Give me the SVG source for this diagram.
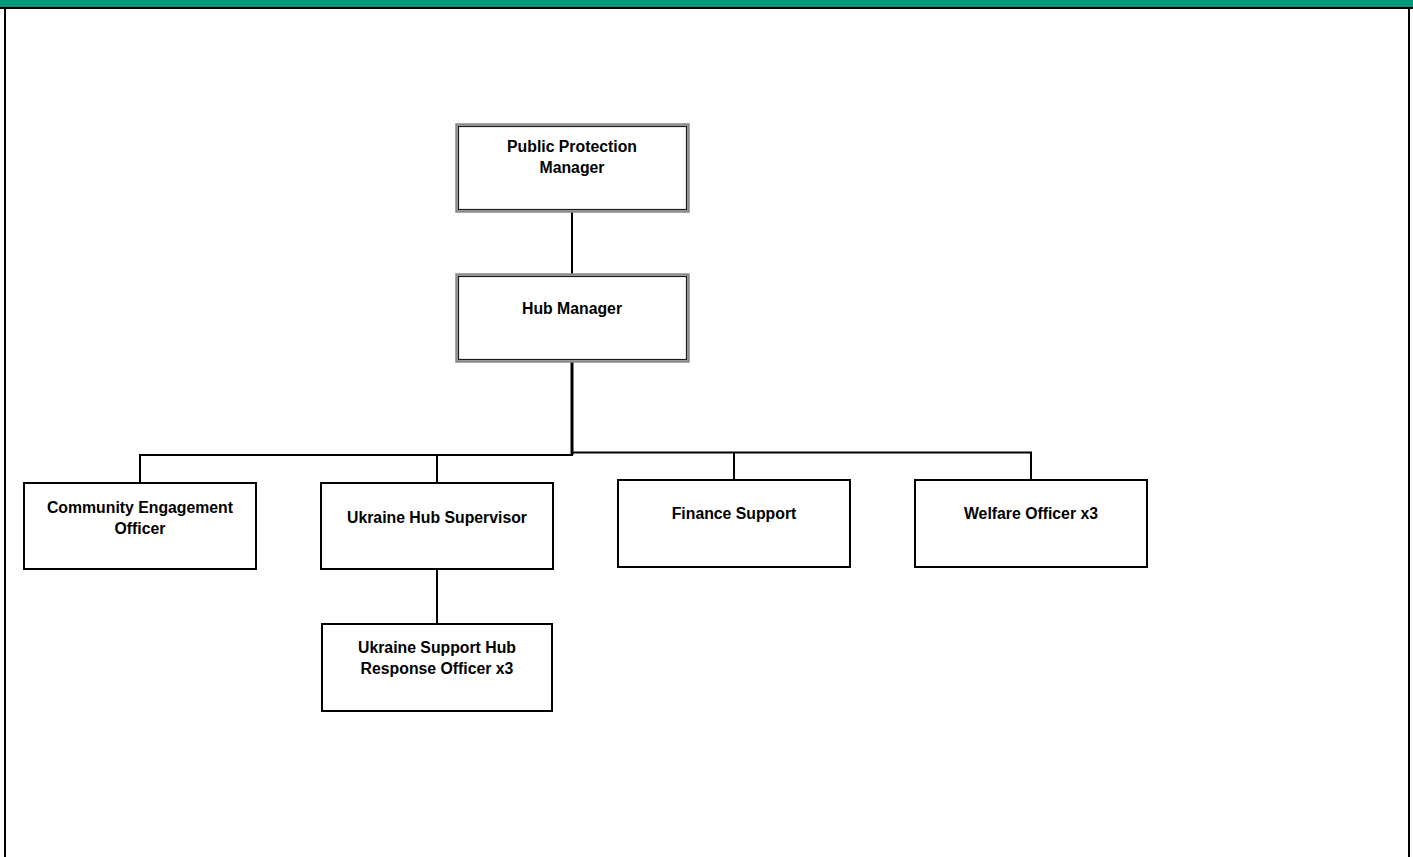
<svg xmlns="http://www.w3.org/2000/svg" width="1413" height="857" viewBox="0 0 1413 857">
<style>
.box{fill:#fff;stroke:#000;stroke-width:2}
.dbo{fill:#fff;stroke:#8a8a8a;stroke-width:2.5}
.dbi{fill:none;stroke:#1a1a1a;stroke-width:1.2}
.lbl{font-family:"Liberation Sans",Arial,sans-serif;font-weight:bold;font-size:15.8px;fill:#000;text-anchor:middle}
.ln{stroke:#000;stroke-width:2;fill:none}
.lnt{stroke:#000;stroke-width:3;fill:none}
</style>
<rect x="0" y="0" width="1413" height="857" fill="#fff"/>
<g id="frame">
<rect x="0" y="0" width="1413" height="7.5" fill="#009A7B"/>
<line x1="0" y1="8" x2="1413" y2="8" stroke="#000" stroke-width="2"/>
<line x1="5" y1="8" x2="5" y2="857" stroke="#000" stroke-width="2"/>
<line x1="1409" y1="8" x2="1409" y2="857" stroke="#000" stroke-width="2"/>
</g>
<g id="connectors">
<line class="ln" x1="572" y1="212" x2="572" y2="274"/>
<line class="lnt" x1="572" y1="362" x2="572" y2="455"/>
<polyline class="ln" points="140,483 140,455 573,455"/>
<polyline class="ln" points="571,452.5 1031,452.5 1031,480"/>
<line class="ln" x1="437" y1="455" x2="437" y2="483"/>
<line class="ln" x1="734" y1="452" x2="734" y2="480"/>
<line class="ln" x1="437" y1="569" x2="437" y2="624"/>
</g>
<g id="ppm">
<rect class="dbo" x="456.5" y="124.5" width="232" height="87"/>
<rect class="dbi" x="458.5" y="126.5" width="228" height="83"/>
<text class="lbl" x="572" y="152">Public Protection</text>
<text class="lbl" x="572" y="173">Manager</text>
</g>
<g id="hub">
<rect class="dbo" x="456.5" y="274.5" width="232" height="87"/>
<rect class="dbi" x="458.5" y="276.5" width="228" height="83"/>
<text class="lbl" x="572" y="314">Hub Manager</text>
</g>
<g id="community">
<rect class="box" x="24" y="483" width="232" height="86"/>
<text class="lbl" x="140" y="513">Community Engagement</text>
<text class="lbl" x="140" y="534">Officer</text>
</g>
<g id="supervisor">
<rect class="box" x="321" y="483" width="232" height="86"/>
<text class="lbl" x="437" y="523">Ukraine Hub Supervisor</text>
</g>
<g id="finance">
<rect class="box" x="618" y="480" width="232" height="87"/>
<text class="lbl" x="734" y="519">Finance Support</text>
</g>
<g id="welfare">
<rect class="box" x="915" y="480" width="232" height="87"/>
<text class="lbl" x="1031" y="519">Welfare Officer x3</text>
</g>
<g id="response">
<rect class="box" x="322" y="624" width="230" height="87"/>
<text class="lbl" x="437" y="653">Ukraine Support Hub</text>
<text class="lbl" x="437" y="674">Response Officer x3</text>
</g>
</svg>
